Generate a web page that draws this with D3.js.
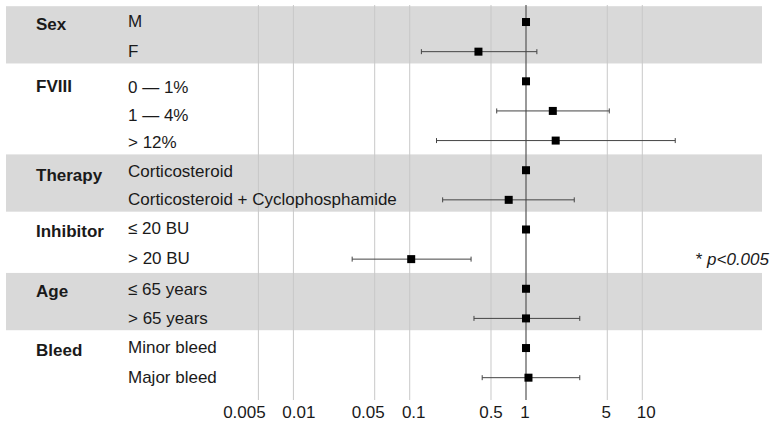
<!DOCTYPE html>
<html>
<head>
<meta charset="utf-8">
<script src="https://cdn.jsdelivr.net/npm/d3@7"></script>
<style>
body { margin: 0; background: #fff; }
svg { display: block; font-family: "Liberation Sans", Arial, sans-serif; }
</style>
</head>
<body>
<div id="canvas"></div>
<script>
// groups and rows of the forest plot
var groups = ["Sex", "FVIII", "Therapy", "Inhibitor", "Age", "Bleed"];
var groupRows = [2, 3, 2, 2, 2, 2];
var labels = ["M", "F", "0 \u2014 1%", "1 \u2014  4%", "> 12%",
	"Corticosteroid", "Corticosteroid + Cyclophosphamide",
	"\u2264 20 BU", "> 20 BU", "\u2264 65 years", "> 65 years",
	"Minor bleed", "Major bleed"];
// odds ratio and confidence interval (null = reference level)
var estimate = [1, 0.39, 1, 1.70, 1.80, 1, 0.71, 1, 0.103, 1, 1.0, 1, 1.05];
var lower = [null, 0.126, null, 0.56, 0.17, null, 0.192, null, 0.032, null, 0.357, null, 0.42];
var upper = [null, 1.24, null, 5.2, 19.2, null, 2.6, null, 0.337, null, 2.9, null, 2.9];
var ticks = [0.005, 0.01, 0.05, 0.1, 0.5, 1, 5, 10];
var tickLabels = ["0.005", "0.01", "0.05", "0.1", "0.5", "1", "5", "10"];

var width = 773, height = 425;
var fs = 17;
// small nudges: tick labels sideways so they don't collide, row text vertically
var tickNudge = [-14, 5.5, -6.5, 4, 0, -1, -1, 4];
var rowNudge = [0, 0, 7, 5.5, 2, 1.5, 0, 0, 0, 1.5, 0.5, 0, 0];
var groupNudge = [0, 3, 2.5, 0, 0, 0];

var svg = d3.select("#canvas").append("svg")
	.attr("width", width)
	.attr("height", height);

var x = d3.scaleLog().domain([0.005, 10]).range([258.4, 642.3]);
var y = d3.scaleBand().domain(d3.range(labels.length)).range([7.2, 392.5]);
var rowH = y.bandwidth();

// shaded bands for every other group
var start = 0;
groups.forEach(function(g, i) {
	var n = groupRows[i];
	if (i % 2 === 0) {
		svg.append("rect")
			.attr("x", 6)
			.attr("y", y(start) - 1)
			.attr("width", 756)
			.attr("height", n * rowH - 2)
			.attr("fill", "#d9d9d9");
	}
	svg.append("text")
		.attr("x", 36)
		.attr("y", y(start) + rowH / 2 + 2 + groupNudge[i])
		.attr("dy", "0.35em")
		.attr("font-size", fs)
		.attr("font-weight", "bold")
		.attr("fill", "#1a1a1a")
		.text(g);
	start += n;
});

// grid lines
svg.selectAll("line.grid")
	.data(ticks.filter(function(t) { return t !== 1; }))
	.enter()
	.append("line")
	.attr("x1", function(d) { return x(d); })
	.attr("x2", function(d) { return x(d); })
	.attr("y1", 5)
	.attr("y2", 400)
	.attr("stroke", "#c8c8c8")
	.attr("stroke-width", 1);

svg.append("line")
	.attr("x1", x(1)).attr("x2", x(1))
	.attr("y1", 5).attr("y2", 400)
	.attr("stroke", "#555")
	.attr("stroke-width", 1.2);

// row labels
svg.selectAll("text.row")
	.data(labels)
	.enter()
	.append("text")
	.attr("x", 128)
	.attr("y", function(d, i) { return y(i) + rowH / 2 - 1 + rowNudge[i]; })
	.attr("dy", "0.35em")
	.attr("font-size", fs)
	.attr("fill", "#1a1a1a")
	.text(function(d) { return d; });

// confidence intervals
var ci = d3.range(labels.length).filter(function(i) { return lower[i] !== null; });
var ciG = svg.selectAll("g.ci").data(ci).enter().append("g")
	.attr("stroke", "#444").attr("stroke-width", 1);
ciG.append("line")
	.attr("x1", function(i) { return x(lower[i]); })
	.attr("x2", function(i) { return x(upper[i]); })
	.attr("y1", function(i) { return y(i) + rowH / 2; })
	.attr("y2", function(i) { return y(i) + rowH / 2; });
ciG.append("line")
	.attr("x1", function(i) { return x(lower[i]); })
	.attr("x2", function(i) { return x(lower[i]); })
	.attr("y1", function(i) { return y(i) + rowH / 2 - 2.5; })
	.attr("y2", function(i) { return y(i) + rowH / 2 + 2.5; });
ciG.append("line")
	.attr("x1", function(i) { return x(upper[i]); })
	.attr("x2", function(i) { return x(upper[i]); })
	.attr("y1", function(i) { return y(i) + rowH / 2 - 2.5; })
	.attr("y2", function(i) { return y(i) + rowH / 2 + 2.5; });

// point estimates
var ms = 8;
svg.selectAll("rect.pt")
	.data(estimate)
	.enter()
	.append("rect")
	.attr("x", function(d) { return x(d) - ms / 2; })
	.attr("y", function(d, i) { return y(i) + rowH / 2 - ms / 2; })
	.attr("width", ms)
	.attr("height", ms)
	.attr("fill", "#000");

// axis tick labels
svg.selectAll("text.tick")
	.data(ticks)
	.enter()
	.append("text")
	.attr("x", function(d, i) { return x(d) + tickNudge[i]; })
	.attr("y", 412)
	.attr("dy", "0.35em")
	.attr("text-anchor", "middle")
	.attr("font-size", fs)
	.attr("fill", "#1a1a1a")
	.text(function(d, i) { return tickLabels[i]; });

// significance note
var note = svg.append("text")
	.attr("x", 769)
	.attr("y", y(8) + rowH / 2)
	.attr("dy", "0.35em")
	.attr("text-anchor", "end")
	.attr("font-size", fs)
	.attr("fill", "#1a1a1a");
note.append("tspan").text("* ");
note.append("tspan").attr("font-style", "italic").text("p<0.005");
</script>
</body>
</html>
